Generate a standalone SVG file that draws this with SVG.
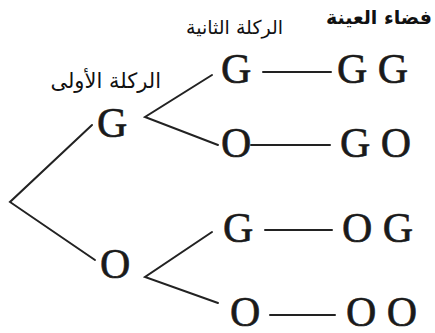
<svg xmlns="http://www.w3.org/2000/svg" width="435" height="333" viewBox="0 0 435 333">
  <style>
    .lbl { font-family: "DejaVu Sans", "Noto Sans", sans-serif; fill: #111; }
    .hd { font-size: 19px; font-weight: bold; }
    .sub2 { font-size: 19px; }
    .sub1 { font-size: 21px; }
    .out { font-family: "Liberation Serif", "Times New Roman", serif; font-size: 42px; fill: #1a1a1a; stroke: #1a1a1a; stroke-width: 0.6; }
    .edge { stroke: #222; stroke-width: 2; fill: none; stroke-linecap: round; }
  </style>
  <rect width="435" height="333" fill="#fff"/>

  <!-- column headings -->
  <g id="headings">
    <text class="lbl hd" x="432" y="24" text-anchor="end">فضاء العينة</text>
    <text class="lbl sub2" x="283" y="34" text-anchor="end">الركلة الثانية</text>
    <text class="lbl sub1" x="161" y="88" text-anchor="end">الركلة الأولى</text>
  </g>

  <!-- connectors -->
  <g id="connectors">
    <polyline class="edge" points="92,125 10,202 95,260"/>
    <polyline class="edge" points="212,75 145,117 218,145"/>
    <polyline class="edge" points="212,232 145,277 218,303"/>
    <line class="edge" x1="263" y1="72" x2="331" y2="72"/>
    <line class="edge" x1="251" y1="145" x2="330" y2="145"/>
    <line class="edge" x1="265" y1="230" x2="332" y2="230"/>
    <line class="edge" x1="270" y1="315" x2="335" y2="315"/>
  </g>

  <!-- first kick -->
  <g id="k1-G"><text class="out" x="97" y="137">G</text></g>
  <g id="k1-O"><text class="out" x="100" y="278">O</text></g>

  <!-- second kick -->
  <g id="k2-GG"><text class="out" x="221" y="83">G</text></g>
  <g id="k2-GO"><text class="out" x="221" y="157">O</text></g>
  <g id="k2-OG"><text class="out" x="223" y="242">G</text></g>
  <g id="k2-OO"><text class="out" x="230" y="326">O</text></g>

  <!-- sample space -->
  <g id="s-GG"><text class="out" x="337" y="83">G G</text></g>
  <g id="s-GO"><text class="out" x="340" y="157">G O</text></g>
  <g id="s-OG"><text class="out" x="342" y="242">O G</text></g>
  <g id="s-OO"><text class="out" x="346" y="326">O O</text></g>
</svg>
